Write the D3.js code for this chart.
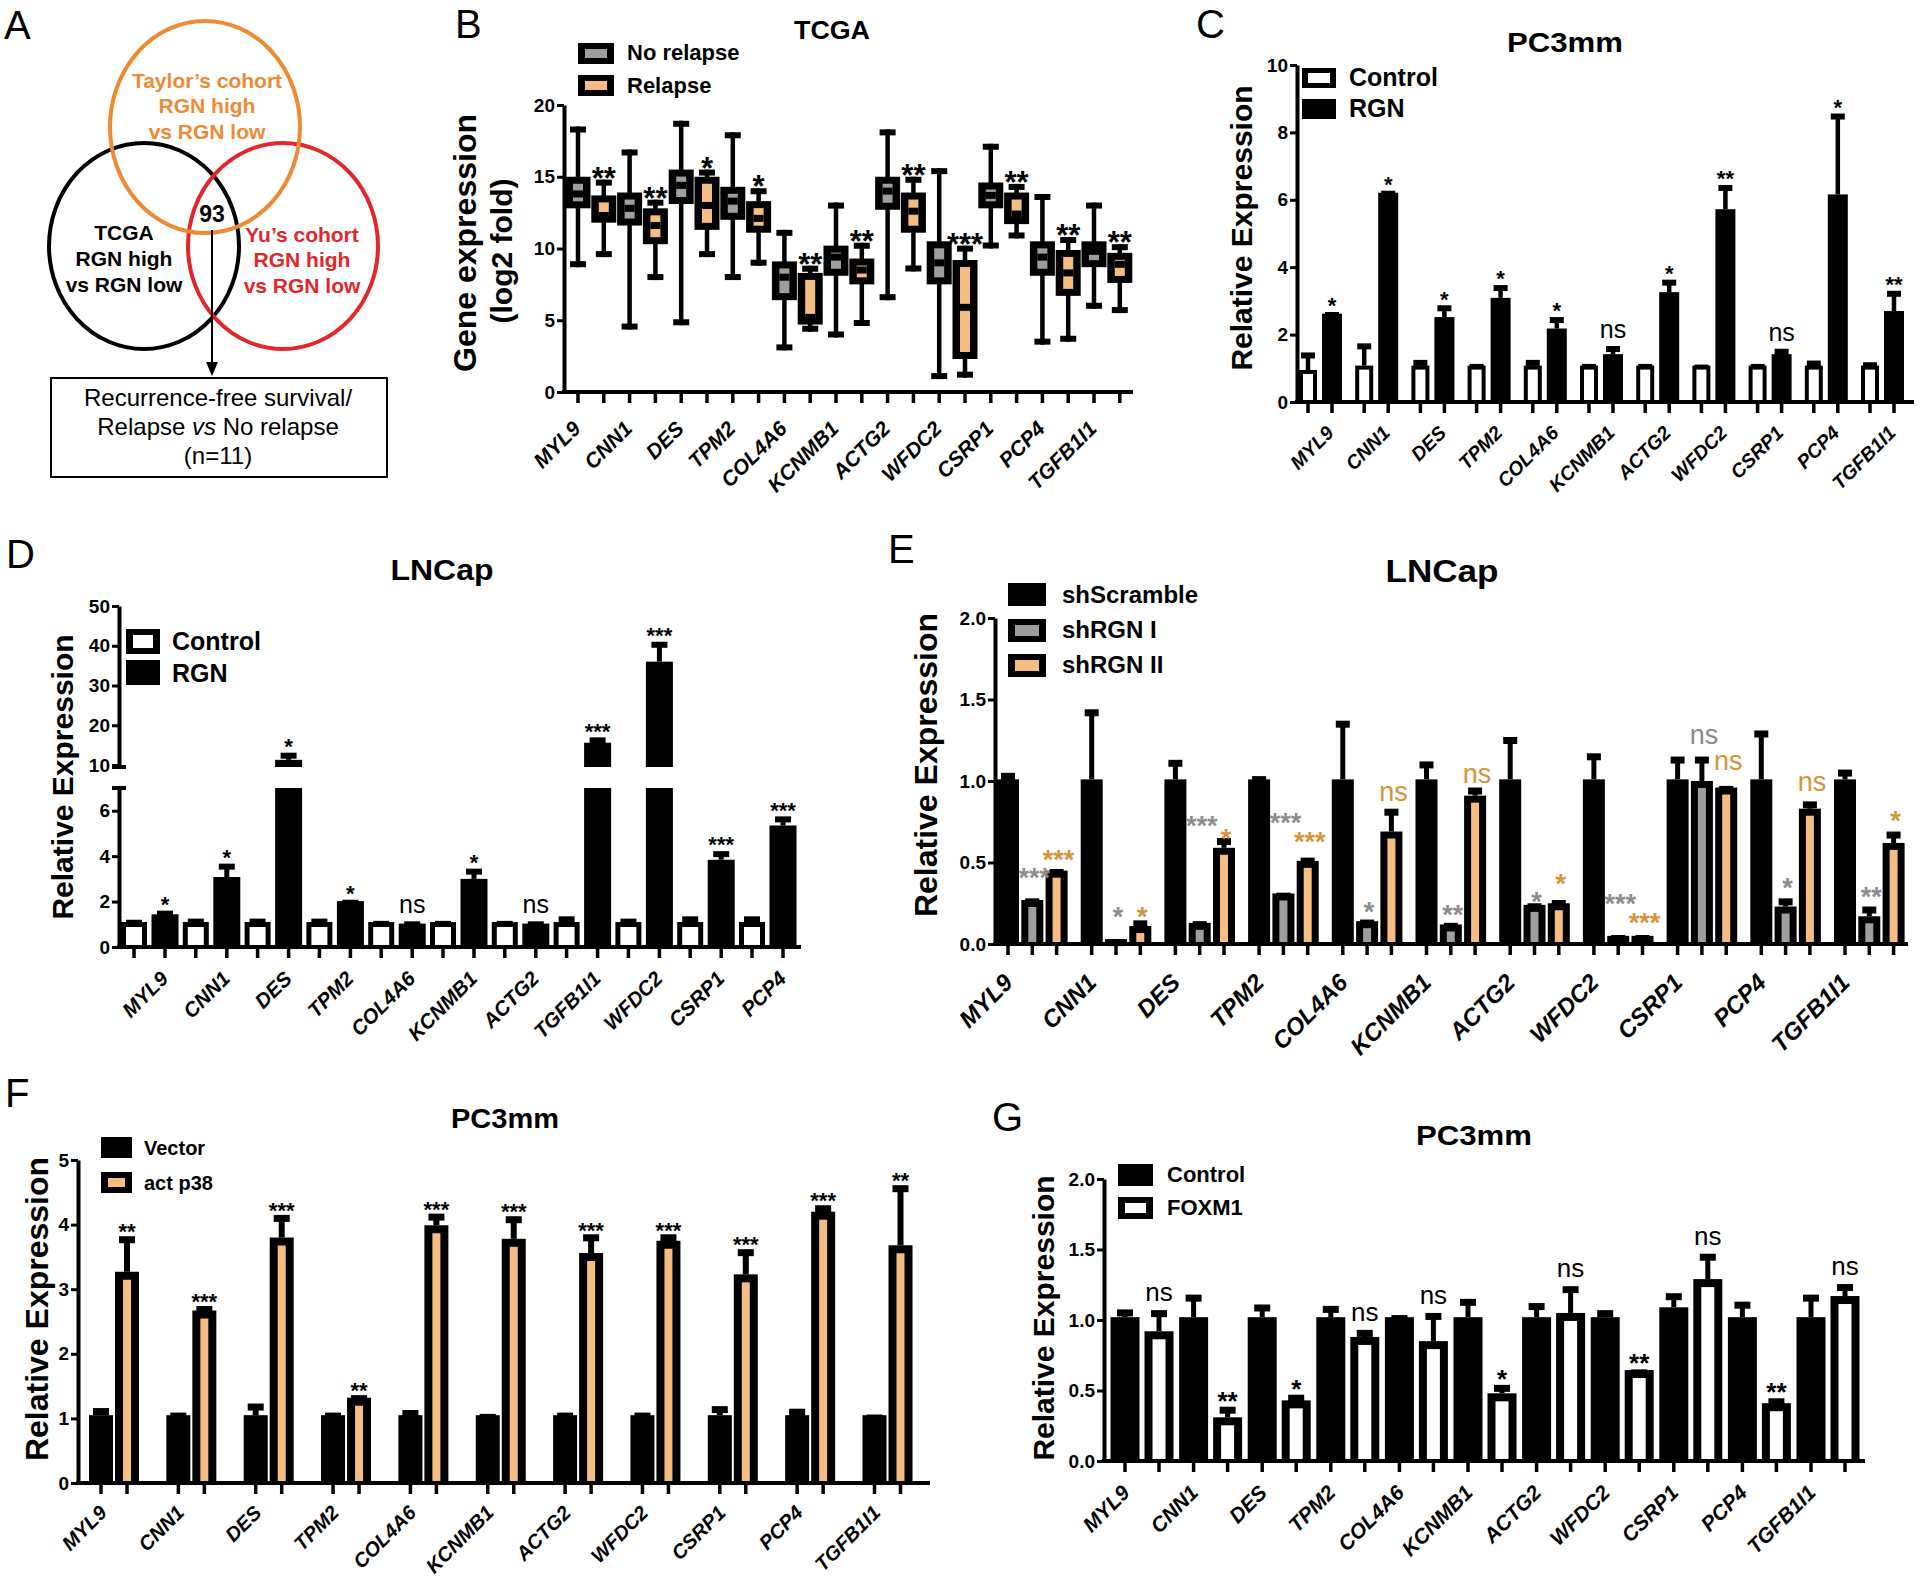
<!DOCTYPE html>
<html>
<head>
<meta charset="utf-8">
<script src="https://cdn.jsdelivr.net/npm/d3@7"></script>
<style>
  body { margin: 0; background: #fff; }
  svg { display: block; }
</style>
</head>
<body>
<div id="chart"></div>
<script>
// ---------- data ----------
var genes  = ["MYL9","CNN1","DES","TPM2","COL4A6","KCNMB1","ACTG2","WFDC2","CSRP1","PCP4","TGFB1I1"];
var genesD = ["MYL9","CNN1","DES","TPM2","COL4A6","KCNMB1","ACTG2","TGFB1I1","WFDC2","CSRP1","PCP4"];

// A: venn
var vennTaylor = ["Taylor\u2019s cohort","RGN high","vs RGN low"];
var vennTCGA   = ["TCGA","RGN high","vs RGN low"];
var vennYu     = ["Yu\u2019s cohort","RGN high","vs RGN low"];
var vennOverlap = "93";

// B: TCGA box plots  [min, q1, median, q3, max]
var tcgaNoRelapse = [[8.7,12.8,13.8,15.0,18.5],[4.35,11.6,12.8,13.9,16.9],[4.65,13.1,14.4,15.5,18.9],[7.8,12.0,13.3,14.3,18.1],
  [2.9,6.4,8.0,9.1,11.3],[3.8,8.1,9.4,10.2,13.2],[6.4,12.7,14.0,15.0,18.3],[0.9,7.5,9.0,10.5,15.6],
  [10.0,12.8,13.7,14.6,17.3],[3.3,8.1,9.4,10.5,13.8],[5.8,8.7,9.8,10.5,13.2]];
var tcgaRelapse = [[9.4,11.8,12.3,13.7,14.8],[7.8,10.3,11.6,12.8,13.4],[9.4,11.3,13.0,15.0,15.5],[8.8,11.1,12.1,13.3,14.2],
  [4.2,4.7,5.2,8.3,8.8],[4.6,7.5,8.5,9.3,10.4],[8.4,11.1,12.6,13.9,15.0],[1.0,2.3,5.9,9.2,10.2],
  [10.7,11.7,12.4,13.9,14.5],[3.5,6.7,8.3,9.9,10.8],[5.5,7.6,8.9,9.7,10.3]];
var tcgaSig = ["**","**","*","*","**","**","**","***","**","**","**"];

// C: PC3mm control vs RGN (mean, sem)
var cControl    = [0.95,1.08,1.08,1.08,1.08,1.08,1.08,1.08,1.08,1.08,1.08];
var cControlSem = [0.52,0.66,0.17,0.05,0.17,0.05,0.05,0.03,0.05,0.15,0.10];
var cRGN        = [2.62,6.21,2.52,3.09,2.18,1.42,3.26,5.72,1.42,6.16,2.70];
var cRGNSem     = [0.05,0.06,0.35,0.38,0.34,0.24,0.37,0.72,0.16,2.40,0.60];
var cSig        = ["*","*","*","*","*","ns","*","**","ns","*","**"];

// D: LNCap control vs RGN (genesD order)
var dControl    = [1.1,1.1,1.1,1.1,1.1,1.1,1.1,1.1,1.1,1.1,1.1];
var dControlSem = [0.1,0.15,0.15,0.15,0.05,0.05,0.05,0.25,0.15,0.25,0.25];
var dRGN        = [1.44,3.08,11.3,2.02,1.03,3.0,1.03,15.6,36.0,3.84,5.35];
var dRGNSem     = [0.16,0.59,1.8,0.06,0.1,0.45,0.1,1.36,5.0,0.38,0.4];
var dSig        = ["*","*","*","*","ns","*","ns","***","***","***","***"];

// E: LNCap shScramble / shRGN I / shRGN II
var eScramble    = [1.01,1.01,1.01,1.01,1.01,1.01,1.01,1.01,1.01,1.01,1.01];
var eScrambleSem = [0.04,0.43,0.12,0.02,0.36,0.11,0.26,0.16,0.14,0.30,0.06];
var eShI         = [0.27,0.03,0.13,0.31,0.14,0.12,0.24,0.05,1.0,0.23,0.17];
var eShISem      = [0.01,0.0,0.01,0.005,0.01,0.01,0.01,0.005,0.15,0.05,0.06];
var eShII        = [0.45,0.11,0.59,0.51,0.69,0.91,0.25,0.05,0.96,0.83,0.62];
var eShIISem     = [0.01,0.035,0.06,0.02,0.14,0.05,0.02,0.005,0.01,0.045,0.07];
var eSigI        = ["***","*","***","***","*","**","*","***","ns","*","**"];
var eSigII       = ["***","*","*","***","ns","ns","*","***","ns","ns","*"];
var eSigIAt      = [0.42,0.18,0.74,0.755,0.21,0.19,0.27,0.26,1.23,0.36,0.30];
var eSigIIAt     = [0.53,0.18,0.66,0.64,0.88,0.99,0.38,0.145,1.07,0.94,0.77];

// F: PC3mm vector vs act p38
var fVector    = [1.05,1.05,1.05,1.05,1.05,1.05,1.05,1.05,1.05,1.05,1.05];
var fVectorSem = [0.11,0.04,0.18,0.04,0.08,0.02,0.04,0.04,0.14,0.10,0.01];
var fP38       = [3.27,2.67,3.80,1.32,3.99,3.78,3.56,3.75,3.23,4.20,3.68];
var fP38Sem    = [0.55,0.07,0.35,0.04,0.18,0.35,0.29,0.10,0.39,0.10,0.93];
var fSig       = ["**","***","***","**","***","***","***","***","***","***","**"];

// G: PC3mm control vs FOXM1
var gControl    = [1.02,1.02,1.02,1.02,1.02,1.02,1.02,1.02,1.09,1.02,1.02];
var gControlSem = [0.055,0.16,0.09,0.08,0.015,0.13,0.10,0.05,0.10,0.11,0.16];
var gFOXM1      = [0.92,0.31,0.43,0.88,0.85,0.48,1.05,0.645,1.29,0.41,1.17];
var gFOXM1Sem   = [0.15,0.075,0.04,0.05,0.20,0.06,0.19,0.005,0.18,0.035,0.085];
var gSig        = ["ns","**","*","ns","ns","*","ns","**","ns","**","ns"];

// ---------- setup ----------
var FONT = "'Liberation Sans', Arial, Helvetica, sans-serif";
var GREY = "#9e9e9e", PEACH = "#f6bd83";

var svg = d3.select("#chart").append("svg")
  .attr("width", 1920).attr("height", 1578)
  .attr("viewBox", "0 0 1920 1578");
svg.append("rect").attr("width", 1920).attr("height", 1578).attr("fill", "#fff");

function text(g, x, y, s, o) {
  o = o || {};
  var t = g.append("text").attr("x", x).attr("y", y).text(s)
    .attr("text-anchor", o.anchor || "middle")
    .attr("fill", o.fill || "#000")
    .style("font-family", FONT)
    .style("font-size", (o.size || 20) + "px")
    .style("font-weight", o.weight || "bold");
  if (o.italic) t.style("font-style", "italic");
  if (o.len) t.attr("textLength", o.len).attr("lengthAdjust", "spacingAndGlyphs");
  if (o.rotate) t.attr("transform", "rotate(" + o.rotate + "," + x + "," + y + ")");
  return t;
}

function yAxis(g, y, x0, ticks, fmt, fs) {
  var a = g.append("g").attr("transform", "translate(" + x0 + ",0)")
    .call(d3.axisLeft(y).tickValues(ticks).tickFormat(fmt).tickSize(7).tickSizeOuter(0).tickPadding(2));
  a.select(".domain").attr("stroke", "#000").attr("stroke-width", 4);
  a.selectAll(".tick line").attr("stroke", "#000").attr("stroke-width", 3);
  a.selectAll(".tick text").attr("fill", "#000")
    .style("font-family", FONT).style("font-size", fs + "px").style("font-weight", "bold");
  return a;
}

function xAxis(g, x0, x1, y0, tickXs) {
  g.append("line").attr("x1", x0 - 2).attr("x2", x1).attr("y1", y0).attr("y2", y0)
    .attr("stroke", "#000").attr("stroke-width", 4);
  g.selectAll(null).data(tickXs).enter().append("line")
    .attr("x1", function (d) { return d; }).attr("x2", function (d) { return d; })
    .attr("y1", y0).attr("y2", y0 + 11)
    .attr("stroke", "#000").attr("stroke-width", 3.5);
}

// bars with a thick black frame and a coloured core
function bars(g, xs, vals, sems, y, y0, o) {
  vals.forEach(function (v, i) {
    var cx = xs[i], top = y(v);
    if (sems) {
      var et = y(v + sems[i]);
      g.append("line").attr("x1", cx).attr("x2", cx).attr("y1", top).attr("y2", et + 2)
        .attr("stroke", "#000").attr("stroke-width", o.ew);
      g.append("rect").attr("x", cx - o.cw / 2).attr("y", et).attr("width", o.cw).attr("height", o.ch).attr("fill", "#000");
    }
    g.append("rect").attr("x", cx - o.w / 2).attr("y", top).attr("width", o.w).attr("height", y0 - top).attr("fill", "#000");
    if (o.fill && o.fill !== "#000" && y0 - top > o.inset) {
      g.append("rect").attr("x", cx - o.w / 2 + o.inset).attr("y", top + o.inset)
        .attr("width", o.w - 2 * o.inset).attr("height", y0 - top - o.inset).attr("fill", o.fill);
    }
  });
}

function sig(g, x, yTop, s, o) {
  var ns = s === "ns";
  var fs = ns ? o.nsSize : o.starSize;
  var base = ns ? yTop - o.nsGap : yTop - o.starGap + 0.42 * fs;
  text(g, x, base, s, { size: fs, weight: ns ? "normal" : "bold", fill: o.fill || "#000" });
}

function legend(g, x, items, o) {
  items.forEach(function (it) {
    g.append("rect").attr("x", x).attr("y", it.y).attr("width", o.w).attr("height", o.h).attr("fill", "#000");
    if (it.fill !== "#000") {
      g.append("rect").attr("x", x + o.inset).attr("y", it.y + o.inset - 1)
        .attr("width", o.w - 2 * o.inset).attr("height", o.h - 2 * o.inset + 2).attr("fill", it.fill);
    }
    text(g, o.tx, it.ty, it.label, { size: o.fs, anchor: "start" });
  });
}

function xLabels(g, names, xs, y, fs) {
  names.forEach(function (n, i) {
    text(g, xs[i], y, n, { size: fs, anchor: "end", italic: true, rotate: -45 });
  });
}

function panelLetter(x, y, s) {
  text(svg, x, y, s, { size: 40, weight: "normal", anchor: "start" });
}

// ---------- A: venn ----------
(function () {
  var g = svg.append("g");
  panelLetter(4, 39, "A");
  g.append("ellipse").attr("cx", 144).attr("cy", 246).attr("rx", 95).attr("ry", 103)
    .attr("fill", "none").attr("stroke", "#000").attr("stroke-width", 4);
  g.append("ellipse").attr("cx", 283).attr("cy", 246).attr("rx", 95).attr("ry", 103)
    .attr("fill", "none").attr("stroke", "#e2262b").attr("stroke-width", 4);
  g.append("ellipse").attr("cx", 205).attr("cy", 127).attr("rx", 95).attr("ry", 106)
    .attr("fill", "none").attr("stroke", "#ef8a34").attr("stroke-width", 4);
  var bl = [88, 113, 139];
  vennTaylor.forEach(function (s, i) { text(g, 207, bl[i], s, { size: 21, fill: "#ef8a34" }); });
  var bl2 = [240, 266, 292];
  vennTCGA.forEach(function (s, i) { text(g, 124, bl2[i], s, { size: 21 }); });
  var bl3 = [242, 267, 293];
  vennYu.forEach(function (s, i) { text(g, 302, bl3[i], s, { size: 21, fill: "#e2262b" }); });
  text(g, 212, 222, vennOverlap, { size: 23 });
  g.append("line").attr("x1", 212).attr("x2", 212).attr("y1", 230).attr("y2", 365)
    .attr("stroke", "#000").attr("stroke-width", 2);
  g.append("path").attr("d", "M206,362L218,362L212,376Z").attr("fill", "#000");
  g.append("rect").attr("x", 51).attr("y", 378).attr("width", 336).attr("height", 99)
    .attr("fill", "none").attr("stroke", "#000").attr("stroke-width", 2);
  text(g, 218, 406, "Recurrence-free survival/", { size: 24, weight: "normal" });
  var t = g.append("text").attr("x", 218).attr("y", 435).attr("text-anchor", "middle")
    .style("font-family", FONT).style("font-size", "24px");
  t.append("tspan").text("Relapse ");
  t.append("tspan").style("font-style", "italic").text("vs");
  t.append("tspan").text(" No relapse");
  text(g, 218, 464, "(n=11)", { size: 24, weight: "normal" });
})();

// ---------- B: TCGA boxes ----------
(function () {
  var g = svg.append("g");
  panelLetter(455, 38, "B");
  var x = d3.scalePoint().domain(genes).range([578, 1094]);
  var step = 25.8;
  var y = d3.scaleLinear().domain([0, 20]).range([392, 105]);
  text(g, 832, 39, "TCGA", { size: 25, len: 76 });
  legend(g, 578, [
    { y: 43, ty: 60, label: "No relapse", fill: GREY },
    { y: 75, ty: 93, label: "Relapse", fill: PEACH }
  ], { w: 36, h: 21, inset: 7, tx: 627, fs: 22 });

  var xs = [];
  genes.forEach(function (gn, i) {
    [tcgaNoRelapse[i], tcgaRelapse[i]].forEach(function (b, s) {
      var cx = x(gn) + s * step;
      xs.push(cx);
      g.append("line").attr("x1", cx).attr("x2", cx).attr("y1", y(b[4])).attr("y2", y(b[0]))
        .attr("stroke", "#000").attr("stroke-width", 4.5);
      g.append("rect").attr("x", cx - 8).attr("y", y(b[4])).attr("width", 16).attr("height", 6).attr("fill", "#000");
      g.append("rect").attr("x", cx - 8).attr("y", y(b[0]) - 6).attr("width", 16).attr("height", 6).attr("fill", "#000");
      g.append("rect").attr("x", cx - 12.5).attr("y", y(b[3])).attr("width", 25)
        .attr("height", y(b[1]) - y(b[3])).attr("fill", "#000");
      var ih = y(b[1]) - y(b[3]) - 14;
      if (ih > 0) {
        g.append("rect").attr("x", cx - 5).attr("y", y(b[3]) + 7).attr("width", 10).attr("height", ih)
          .attr("fill", s === 0 ? GREY : PEACH);
      }
      g.append("rect").attr("x", cx - 5).attr("y", y(b[2]) - 3.5).attr("width", 10).attr("height", 7).attr("fill", "#000");
      if (s === 1) sig(g, cx, y(b[4]), tcgaSig[i], { starSize: 31, starGap: 4, nsSize: 24, nsGap: 6 });
    });
  });
  yAxis(g, y, 564, [0, 5, 10, 15, 20], d3.format("d"), 19);
  xAxis(g, 564, 1133, 392, xs);
  xLabels(g, genes, genes.map(function (gn) { return x(gn) + step / 2 - 9; }), 430, 21);
  text(g, 476, 243, "Gene expression", { size: 31, rotate: -90, len: 258 });
  text(g, 512, 251, "(log2 fold)", { size: 30, rotate: -90 });
})();

// ---------- C: PC3mm control / RGN ----------
(function () {
  var g = svg.append("g");
  panelLetter(1196, 38, "C");
  var x = d3.scalePoint().domain(genes).range([1308, 1870]);
  var off = 24;
  var y = d3.scaleLinear().domain([0, 10]).range([402, 65]);
  text(g, 1565, 52, "PC3mm", { size: 27, len: 116 });
  var ctrlX = genes.map(function (d) { return x(d); });
  var rgnX = genes.map(function (d) { return x(d) + off; });
  bars(g, ctrlX, cControl, cControlSem, y, 402, { w: 18, inset: 4, fill: "#fff", ew: 4.5, cw: 14, ch: 6 });
  bars(g, rgnX, cRGN, cRGNSem, y, 402, { w: 20, inset: 0, fill: "#000", ew: 4.5, cw: 14, ch: 6 });
  cSig.forEach(function (s, i) {
    sig(g, rgnX[i], y(cRGN[i] + cRGNSem[i]), s, { starSize: 22, starGap: 8, nsSize: 25, nsGap: 8 });
  });
  yAxis(g, y, 1297, [0, 2, 4, 6, 8, 10], d3.format("d"), 19);
  xAxis(g, 1297, 1914, 402, ctrlX.concat(rgnX));
  legend(g, 1302, [
    { y: 68, ty: 86, label: "Control", fill: "#fff" },
    { y: 99, ty: 117, label: "RGN", fill: "#000" }
  ], { w: 34, h: 20, inset: 6, tx: 1349, fs: 25 });
  xLabels(g, genes, genes.map(function (d) { return x(d) + off / 2 + 15; }), 434, 19.5);
  text(g, 1252, 228, "Relative Expression", { size: 30, rotate: -90 });
})();

// ---------- D: LNCap control / RGN (broken axis) ----------
(function () {
  var g = svg.append("g");
  panelLetter(6, 568, "D");
  var x = d3.scalePoint().domain(genesD).range([134, 752]);
  var off = 31;
  var yLow = d3.scaleLinear().domain([0, 7]).range([947, 788]);
  var yUp = d3.scaleLinear().domain([10, 50]).range([765, 606]);
  var upBottom = 767;
  function yv(v) { return v <= 7 ? yLow(v) : yUp(v); }
  text(g, 442, 580, "LNCap", { size: 29, len: 103 });
  var ctrlX = genesD.map(function (d) { return x(d); });
  var rgnX = genesD.map(function (d) { return x(d) + off; });
  bars(g, ctrlX, dControl, dControlSem, yLow, 947, { w: 26, inset: 5, fill: "#fff", ew: 5, cw: 16, ch: 6 });
  dRGN.forEach(function (v, i) {
    var cx = rgnX[i];
    if (v <= 7) {
      bars(g, [cx], [v], [dRGNSem[i]], yLow, 947, { w: 27, inset: 0, fill: "#000", ew: 5, cw: 16, ch: 6 });
    } else {
      g.append("rect").attr("x", cx - 13.5).attr("y", yLow(7)).attr("width", 27).attr("height", 947 - yLow(7)).attr("fill", "#000");
      bars(g, [cx], [v], [dRGNSem[i]], yUp, upBottom, { w: 27, inset: 0, fill: "#000", ew: 5, cw: 16, ch: 6 });
    }
    sig(g, cx, yv(v + dRGNSem[i]), dSig[i], { starSize: 22, starGap: 8, nsSize: 25, nsGap: 8 });
  });
  yAxis(g, yLow, 119, [0, 2, 4, 6], d3.format("d"), 19);
  yAxis(g, yUp, 119, [10, 20, 30, 40, 50], d3.format("d"), 19);
  g.append("line").attr("x1", 112).attr("x2", 126).attr("y1", yLow(7)).attr("y2", yLow(7)).attr("stroke", "#000").attr("stroke-width", 4);
  g.append("line").attr("x1", 112).attr("x2", 126).attr("y1", upBottom).attr("y2", upBottom).attr("stroke", "#000").attr("stroke-width", 4);
  g.append("line").attr("x1", 119).attr("x2", 119).attr("y1", yUp(10)).attr("y2", upBottom).attr("stroke", "#000").attr("stroke-width", 4);
  xAxis(g, 119, 801, 947, ctrlX.concat(rgnX));
  legend(g, 126, [
    { y: 629, ty: 650, label: "Control", fill: "#fff" },
    { y: 660, ty: 682, label: "RGN", fill: "#000" }
  ], { w: 34, h: 25, inset: 7, tx: 172, fs: 25 });
  xLabels(g, genesD, genesD.map(function (d) { return x(d) + off / 2 + 20; }), 980, 20.5);
  text(g, 73, 777, "Relative Expression", { size: 30, rotate: -90 });
})();

// ---------- E: LNCap shRNA ----------
(function () {
  var g = svg.append("g");
  panelLetter(888, 563, "E");
  var x = d3.scalePoint().domain(genes).range([1008, 1845]);
  var off = 24.3;
  var y = d3.scaleLinear().domain([0, 2]).range([944, 618]);
  text(g, 1442, 582, "LNCap", { size: 32, len: 113 });
  var x0 = genes.map(function (d) { return x(d); });
  var x1 = genes.map(function (d) { return x(d) + off; });
  var x2 = genes.map(function (d) { return x(d) + 2 * off; });
  var eo = { w: 22, inset: 7, ew: 5, cw: 14, ch: 7 };
  bars(g, x0, eScramble, eScrambleSem, y, 944, Object.assign({}, eo, { fill: "#000" }));
  bars(g, x1, eShI, eShISem, y, 944, Object.assign({}, eo, { fill: GREY }));
  bars(g, x2, eShII, eShIISem, y, 944, Object.assign({}, eo, { fill: PEACH }));
  eSigI.forEach(function (s, i) {
    sig(g, x1[i] + 2, y(eSigIAt[i]), s, { starSize: 27, starGap: 0, nsSize: 27, nsGap: 0, fill: "#8c8c8c" });
  });
  eSigII.forEach(function (s, i) {
    sig(g, x2[i] + 2, y(eSigIIAt[i]), s, { starSize: 27, starGap: 0, nsSize: 27, nsGap: 0, fill: "#d4953a" });
  });
  yAxis(g, y, 995, [0, 0.5, 1, 1.5, 2], d3.format(".1f"), 19);
  xAxis(g, 995, 1908, 944, x0.concat(x1, x2));
  legend(g, 1008, [
    { y: 583, ty: 603, label: "shScramble", fill: "#000" },
    { y: 619, ty: 638, label: "shRGN I", fill: GREY },
    { y: 654, ty: 673, label: "shRGN II", fill: PEACH }
  ], { w: 38, h: 23, inset: 7, tx: 1062, fs: 24 });
  xLabels(g, genes, x1.map(function (d) { return d - 18; }), 984, 24);
  text(g, 937, 765, "Relative Expression", { size: 32, rotate: -90 });
})();

// ---------- F: PC3mm vector / act p38 ----------
(function () {
  var g = svg.append("g");
  panelLetter(5, 1107, "F");
  var x = d3.scalePoint().domain(genes).range([101, 874.5]);
  var off = 26;
  var y = d3.scaleLinear().domain([0, 5]).range([1483, 1160]);
  text(g, 505, 1128, "PC3mm", { size: 27, len: 108 });
  var vx = genes.map(function (d) { return x(d); });
  var px = genes.map(function (d) { return x(d) + off; });
  bars(g, vx, fVector, fVectorSem, y, 1483, { w: 24, inset: 8, fill: "#000", ew: 6, cw: 16, ch: 7 });
  bars(g, px, fP38, fP38Sem, y, 1483, { w: 24, inset: 8, fill: PEACH, ew: 6, cw: 16, ch: 7 });
  fSig.forEach(function (s, i) {
    sig(g, px[i], y(fP38[i] + fP38Sem[i]), s, { starSize: 22, starGap: 6, nsSize: 24, nsGap: 6 });
  });
  yAxis(g, y, 78, [0, 1, 2, 3, 4, 5], d3.format("d"), 19);
  xAxis(g, 78, 930, 1483, vx.concat(px));
  legend(g, 101, [
    { y: 1137, ty: 1155, label: "Vector", fill: "#000" },
    { y: 1172, ty: 1190, label: "act p38", fill: PEACH }
  ], { w: 31, h: 21, inset: 7, tx: 144, fs: 20 });
  xLabels(g, genes, genes.map(function (d) { return x(d) + off / 2 - 6; }), 1514, 20);
  text(g, 48, 1309, "Relative Expression", { size: 32, rotate: -90 });
})();

// ---------- G: PC3mm control / FOXM1 ----------
(function () {
  var g = svg.append("g");
  panelLetter(992, 1131, "G");
  var x = d3.scalePoint().domain(genes).range([1125, 1811]);
  var off = 34;
  var y = d3.scaleLinear().domain([0, 2]).range([1461, 1179]);
  text(g, 1474, 1145, "PC3mm", { size: 28, len: 116 });
  var cx = genes.map(function (d) { return x(d); });
  var fx = genes.map(function (d) { return x(d) + off; });
  bars(g, cx, gControl, gControlSem, y, 1461, { w: 29, inset: 0, fill: "#000", ew: 5, cw: 16, ch: 7 });
  bars(g, fx, gFOXM1, gFOXM1Sem, y, 1461, { w: 29, inset: 8, fill: "#fff", ew: 5, cw: 16, ch: 7 });
  gSig.forEach(function (s, i) {
    sig(g, fx[i], y(gFOXM1[i] + gFOXM1Sem[i]), s, { starSize: 26, starGap: 8, nsSize: 26, nsGap: 9 });
  });
  yAxis(g, y, 1104, [0, 0.5, 1, 1.5, 2], d3.format(".1f"), 19);
  xAxis(g, 1104, 1865, 1461, cx.concat(fx));
  legend(g, 1118, [
    { y: 1164, ty: 1182, label: "Control", fill: "#000" },
    { y: 1197, ty: 1215, label: "FOXM1", fill: "#fff" }
  ], { w: 35, h: 22, inset: 7, tx: 1167, fs: 22 });
  xLabels(g, genes, genes.map(function (d) { return x(d) + off / 2 - 11; }), 1494, 21);
  text(g, 1054, 1318, "Relative Expression", { size: 30, rotate: -90 });
})();
</script>
</body>
</html>
